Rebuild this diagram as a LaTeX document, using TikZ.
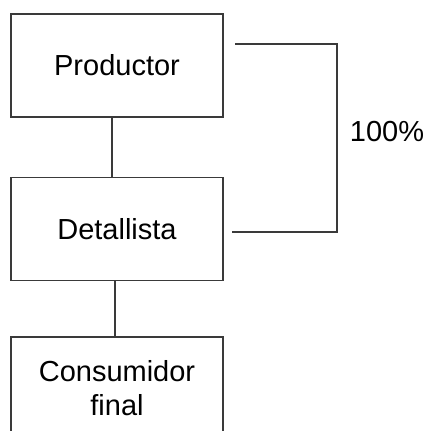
\documentclass[tikz,border=0pt]{standalone}
\usepackage{fontspec}
\setmainfont{Liberation Sans}
\usetikzlibrary{positioning}
\definecolor{linea}{HTML}{3A3A3A}
\tikzset{
	caja/.style={rectangle, draw=linea, line width=1.4pt, fill=white,
		minimum width=212pt, minimum height=103pt, align=center,
		font=\fontsize{29}{34}\selectfont},
	union/.style={draw=linea, line width=1.4pt},
	etiqueta/.style={font=\fontsize{29}{34}\selectfont}
}

\begin{document}
\begin{tikzpicture}[x=1pt, y=1pt]
			\fill[white] (0,0) rectangle (426,-431);
			\useasboundingbox (0,0) rectangle (426,-431);
			\clip (0,0) rectangle (426,-431);
			
			\node[caja] (prod) at (117,-65.5) {Productor};
			\node[caja, below=59pt of prod] (det) {Detallista};
			\node[caja, below=55pt of det] (cons) {Consumidor\\final};
			
			\draw[union] ([xshift=-5pt]prod.south) -- ([xshift=-5pt]det.north);
			\draw[union] ([xshift=-2pt]det.south) -- ([xshift=-2pt]cons.north);
			
			\coordinate (b1) at (235,-44);
			\coordinate (b2) at (337,-44);
			\coordinate (b3) at (337,-232);
			\coordinate (b4) at (232,-232);
			\draw[union] (b1) -- (b2) -- (b3) -- (b4);
			\node[etiqueta] (pct) at (387,-132) {100\%};
		\end{tikzpicture}
\end{document}
